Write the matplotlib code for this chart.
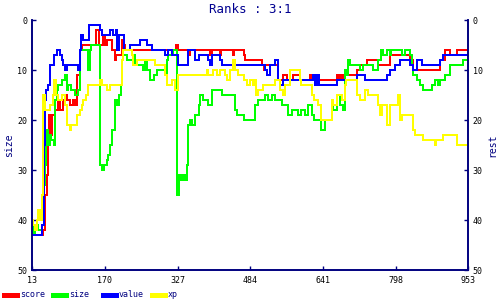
import matplotlib
matplotlib.use('Agg')
import matplotlib.pyplot as plt
from matplotlib.lines import Line2D

plt.rcParams['font.family'] = 'DejaVu Sans Mono'

x_ticks = [13, 170, 327, 484, 641, 798, 953]
y_ticks = [0, 10, 20, 30, 40, 50]

# step series: rank holds from each x until the next one
score_x = [13, 36, 40, 42, 45, 47, 48, 50, 53, 56, 63, 70, 73, 80, 84, 88, 95, 102, 106, 109,
           111, 116, 120, 152, 157, 167, 170, 174, 185, 192, 195, 206, 210, 213, 323, 327, 350, 353,
           397, 400, 418, 421, 446, 449, 469, 472, 508, 513, 516, 544, 555, 562, 576, 591, 612, 616,
           670, 673, 676, 680, 683, 713, 720, 735, 760, 785, 828, 835, 893, 903, 914, 929, 953]
score_y = [43, 42, 38, 35, 31, 26, 24, 19, 23, 19, 18, 16, 18, 16, 15, 16, 17, 16, 17, 15,
           11, 6, 5, 2, 5, 3, 5, 4, 6, 8, 7, 4, 5, 6, 5, 6, 7, 6,
           7, 6, 7, 6, 7, 6, 7, 8, 9, 10, 9, 12, 11, 12, 11, 12, 11, 12,
           11, 12, 11, 12, 11, 10, 9, 8, 9, 7, 8, 10, 8, 6, 7, 6, 6]

size_x = [13, 16, 20, 27, 34, 38, 41, 44, 48, 52, 55, 60, 63, 66, 70, 77, 84, 88, 91, 98,
          106, 113, 116, 134, 137, 140, 160, 163, 168, 174, 177, 181, 185, 192, 196, 201, 204, 206, 210, 217,
          231, 234, 253, 257, 260, 267, 275, 282, 300, 303, 307, 318, 326, 330, 335, 338, 343, 347, 350, 354,
          357, 364, 372, 375, 382, 393, 400, 422, 451, 454, 470, 494, 501, 515, 522, 530, 537, 551, 566, 573,
          587, 594, 602, 609, 616, 620, 637, 645, 659, 663, 671, 678, 684, 688, 691, 695, 699, 720, 727, 749,
          760, 765, 770, 778, 785, 788, 810, 817, 828, 832, 835, 842, 849, 857, 875, 882, 889, 893, 903, 914,
          943, 953]
size_y = [41, 43, 41, 42, 41, 33, 29, 22, 25, 23, 24, 25, 16, 14, 13, 12, 11, 14, 13, 14,
          15, 14, 6, 10, 6, 5, 29, 30, 29, 28, 27, 25, 22, 16, 17, 15, 13, 8, 7, 8,
          7, 9, 10, 8, 10, 12, 11, 10, 11, 8, 7, 6, 35, 31, 32, 31, 32, 29, 21, 20,
          21, 19, 17, 15, 16, 17, 14, 15, 18, 19, 20, 17, 16, 15, 16, 15, 16, 17, 19, 18,
          19, 18, 19, 17, 19, 20, 22, 20, 17, 18, 15, 17, 18, 10, 11, 8, 9, 10, 9, 10,
          8, 6, 7, 6, 7, 6, 7, 6, 7, 9, 11, 12, 13, 14, 13, 12, 13, 12, 11, 9,
          8, 8]

value_x = [13, 34, 38, 41, 44, 48, 52, 61, 66, 73, 77, 80, 84, 88, 113, 116, 118, 122, 136, 160,
           163, 181, 188, 194, 197, 201, 211, 224, 246, 260, 271, 300, 307, 314, 328, 350, 364, 372, 393, 397,
           400, 418, 423, 447, 451, 515, 520, 526, 537, 544, 548, 555, 619, 623, 627, 632, 637, 670, 713, 731,
           778, 785, 796, 806, 828, 835, 842, 853, 893, 900, 953]
value_y = [43, 41, 25, 16, 14, 13, 9, 7, 6, 7, 8, 9, 10, 9, 10, 6, 3, 4, 1, 2,
           3, 2, 3, 2, 6, 3, 6, 5, 4, 5, 6, 7, 6, 7, 9, 6, 8, 7, 8, 9,
           7, 8, 9, 8, 9, 10, 11, 9, 8, 12, 13, 12, 11, 13, 11, 13, 13, 12, 11, 12,
           11, 10, 9, 8, 9, 10, 8, 9, 8, 7, 7]

xp_x = [13, 16, 20, 23, 27, 30, 34, 36, 37, 40, 52, 59, 61, 65, 70, 77, 84, 88, 95, 98,
        111, 116, 120, 124, 129, 134, 160, 163, 174, 181, 206, 210, 228, 231, 239, 278, 300, 303, 314, 321,
        328, 390, 393, 404, 411, 418, 429, 433, 440, 447, 451, 458, 469, 476, 483, 489, 492, 497, 501, 512,
        537, 548, 555, 558, 569, 591, 594, 616, 620, 630, 637, 659, 663, 670, 681, 688, 691, 713, 720, 731,
        738, 760, 763, 767, 778, 785, 803, 806, 810, 835, 839, 857, 882, 884, 900, 929, 953]
xp_y = [40, 41, 42, 40, 38, 40, 35, 25, 15, 18, 17, 15, 12, 15, 16, 15, 17, 21, 22, 21,
        19, 18, 17, 16, 15, 13, 12, 13, 14, 13, 8, 6, 7, 9, 8, 9, 11, 13, 12, 14,
        11, 10, 11, 10, 11, 10, 11, 12, 10, 8, 10, 11, 12, 13, 12, 13, 12, 15, 14, 13,
        12, 14, 15, 13, 10, 12, 13, 15, 16, 17, 20, 16, 17, 15, 16, 13, 12, 15, 16, 14,
        15, 17, 19, 17, 21, 17, 15, 20, 19, 22, 23, 24, 25, 24, 23, 25, 24]

names = ['score', 'size', 'value', 'xp']
colors = ['#ff0000', '#00ff00', '#0000ff', '#ffff00']
navy = '#000080'

fig = plt.figure(figsize=(5, 3), dpi=100)
ax = fig.add_axes([0.064, 0.1, 0.872, 0.8333])

series = [(score_x, score_y), (size_x, size_y), (value_x, value_y), (xp_x, xp_y)]
for (xs, ys), c in zip(series, colors):
    ax.plot(xs, ys, drawstyle='steps-post', color=c, lw=1.4, antialiased=False)

ax.set_xlim(13, 953)
ax.set_ylim(50, 0)
ax.set_xticks(x_ticks)
ax.set_yticks(y_ticks)
ax.set_title('Ranks : 3:1', color='#000090', fontsize=9, pad=5)
ax.set_ylabel('size', color=navy, fontsize=7, labelpad=2)

ax2 = ax.twinx()
ax2.set_ylim(50, 0)
ax2.set_yticks(y_ticks)
ax2.set_ylabel('rest', color=navy, fontsize=7, labelpad=3)

for a in (ax, ax2):
    a.spines['top'].set_visible(False)
    for s in ('left', 'right', 'bottom'):
        a.spines[s].set_color(navy)
        a.spines[s].set_linewidth(1.2)
    a.tick_params(direction='in', length=3, width=1, color=navy,
                  labelcolor='black', labelsize=6)
    a.tick_params(axis='y', pad=3.5)
ax.tick_params(axis='x', pad=4.5)

# legend row along the bottom edge
for i, (name, c) in enumerate(zip(names, colors)):
    x0 = (4 + i * 49.3) / 500
    fig.add_artist(Line2D([x0, x0 + 13 / 500], [0.017, 0.017], color=c, lw=2.2,
                          transform=fig.transFigure, antialiased=False))
    fig.text(x0 + 16 / 500, 0.017, name, color=navy, fontsize=6, va='center')

fig.savefig('out.png', dpi=100)
